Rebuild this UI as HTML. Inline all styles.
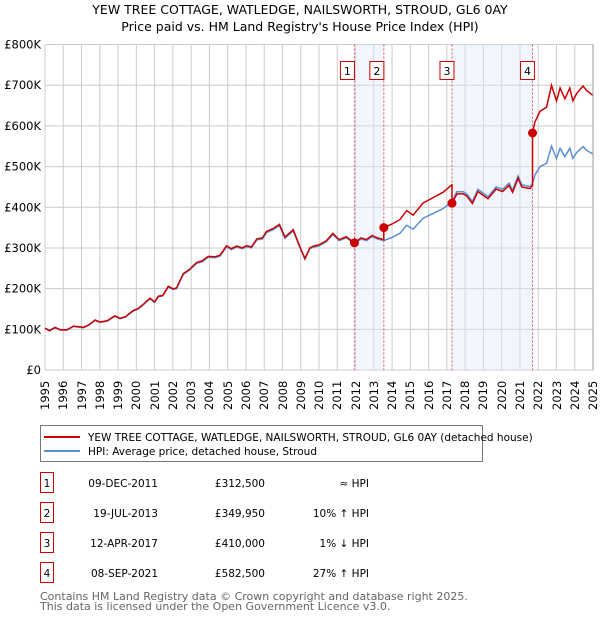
<!DOCTYPE html>
<html><head><meta charset="utf-8"><style>
body{margin:0;background:#fff;font-family:"Liberation Sans","DejaVu Sans",sans-serif;position:relative;width:600px;height:620px;overflow:hidden;}
svg text{font-family:"DejaVu Sans","Liberation Sans",sans-serif;}
svg{position:absolute;left:0;top:0;}
.xl{position:absolute;top:372px;height:38px;width:14px;writing-mode:vertical-rl;transform:rotate(180deg);font-family:"DejaVu Sans","Liberation Sans",sans-serif;font-size:11.5px;line-height:14px;text-align:left;white-space:nowrap;color:#000;}
</style></head><body>
<svg id="c" width="600" height="620" viewBox="0 0 600 620" xmlns="http://www.w3.org/2000/svg">
<text x="300" y="14" text-anchor="middle" font-size="12.5" fill="#000">YEW TREE COTTAGE, WATLEDGE, NAILSWORTH, STROUD, GL6 0AY</text>
<text x="300" y="31" text-anchor="middle" font-size="12.5" fill="#000">Price paid vs. HM Land Registry's House Price Index (HPI)</text>
<g id="grid"></g>
<g id="shade"></g><g id="lines"></g><g id="marks"></g><g id="axes"></g>
<g>
<rect x="40.5" y="425.5" width="442" height="36" fill="#fff" stroke="#777"/>
<line x1="44" y1="437" x2="80" y2="437" stroke="#cc0000" stroke-width="2"/>
<text x="88" y="441" font-size="10.5">YEW TREE COTTAGE, WATLEDGE, NAILSWORTH, STROUD, GL6 0AY (detached house)</text>
<line x1="44" y1="451" x2="80" y2="451" stroke="#5b8fd4" stroke-width="2"/>
<text x="88" y="455" font-size="10.5">HPI: Average price, detached house, Stroud</text>
</g>
<g id="table" font-size="10.5"></g>
<text x="40" y="600" font-size="11" fill="#666">Contains HM Land Registry data © Crown copyright and database right 2025.</text>
<text x="40" y="610" font-size="11" fill="#666">This data is licensed under the Open Government Licence v3.0.</text>
</svg>
<div id="xlabels"></div>
<script>
const hpiYears=[1995,1995.25,1995.55,1995.85,1996.2,1996.56,1996.9,1997.1,1997.4,1997.74,1998.0,1998.4,1998.83,1999.1,1999.4,1999.83,2000.1,2000.37,2000.75,2001.0,2001.2,2001.45,2001.75,2002.0,2002.2,2002.57,2002.9,2003.3,2003.6,2003.93,2004.3,2004.58,2004.94,2005.2,2005.5,2005.8,2006.04,2006.3,2006.6,2006.9,2007.13,2007.5,2007.83,2008.14,2008.59,2008.96,2009.23,2009.5,2009.7,2010.0,2010.4,2010.76,2011.1,2011.5,2011.94,2012.3,2012.6,2012.9,2013.2,2013.55,2014.0,2014.43,2014.8,2015.15,2015.7,2016.25,2016.8,2017.17,2017.27,2017.55,2017.9,2018.1,2018.4,2018.7,2019.25,2019.7,2020.05,2020.4,2020.6,2020.9,2021.1,2021.55,2021.69,2021.82,2022.1,2022.46,2022.73,2023.0,2023.2,2023.46,2023.73,2023.9,2024.1,2024.45,2024.65,2024.98];
const hpiValues=[102,96,104,98,98,107,105,104,110,122,117,120,132,126,130,145,150,160,175,166,180,182,204,198,200,235,245,262,266,277,276,280,303,296,302,298,303,300,320,322,338,345,355,324,342,300,272,298,302,305,315,333,318,325,310,322,318,328,322,318,326,336,356,346,373,385,397,410,414,438,438,432,414,444,426,450,444,459,442,477,455,451,458,479,500,508,550,520,545,524,545,520,534,549,540,531];
const saleLabels=["1","2","3","4"];
const saleYears=[2011.94,2013.55,2017.28,2021.69];
const salePrices=[312500,349950,410000,582500];
const saleDates=["09-DEC-2011","19-JUL-2013","12-APR-2017","08-SEP-2021"];
const saleNotes=["≈ HPI","10% ↑ HPI","1% ↓ HPI","27% ↑ HPI"];
const yTicks=[0,100,200,300,400,500,600,700,800];
const yTickLabels=["£0","£100K","£200K","£300K","£400K","£500K","£600K","£700K","£800K"];

const X0=45,X1=593,Y0=370,Y1=44.5,T0=1995,T1=2025,VMAX=800;
const sx=t=>X0+(t-T0)/(T1-T0)*(X1-X0);
const sy=v=>Y0-v/VMAX*(Y0-Y1);
const NS="http://www.w3.org/2000/svg";
function mk(tag,attrs,parent){const e=document.createElementNS(NS,tag);for(const k in attrs)e.setAttribute(k,attrs[k]);parent.appendChild(e);return e;}
function hpiAt(t){for(let i=0;i<hpiYears.length-1;i++){if(t<=hpiYears[i+1]){const f=(t-hpiYears[i])/(hpiYears[i+1]-hpiYears[i]);return hpiValues[i]+f*(hpiValues[i+1]-hpiValues[i]);}}return hpiValues[hpiValues.length-1];}

const grid=document.getElementById('grid');
for(let y=T0;y<=T1;y++){const l=mk('line',{x1:sx(y),x2:sx(y),y1:Y1,y2:Y0,stroke:'#cccccc','stroke-width':1},grid);

}
yTicks.forEach((v,i)=>{const l=mk('line',{x1:X0,x2:X1,y1:sy(v),y2:sy(v),stroke:'#cccccc','stroke-width':1},grid);


const t=mk('text',{x:X0-4,y:sy(v)+4,'text-anchor':'end','font-size':'11.5'},grid);t.textContent=yTickLabels[i];

});
const xl=document.getElementById('xlabels');
for(let y=T0;y<=T1;y++){const d=document.createElement('div');d.className='xl';
d.style.left=(sx(y)-7).toFixed(1)+'px';d.textContent=String(y);


xl.appendChild(d);}

const shade=document.getElementById('shade');
[[0,1],[2,3]].forEach(p=>{const r=mk('rect',{x:sx(saleYears[p[0]]),y:Y1,width:sx(saleYears[p[1]])-sx(saleYears[p[0]]),height:Y0-Y1,fill:'#dde6fa','fill-opacity':0.4},shade);

});
const boxOff=[-10,-10,-8,-8];
saleYears.forEach((t,i)=>{const l=mk('line',{x1:sx(t),x2:sx(t),y1:Y1,y2:Y0,stroke:'#e05050','stroke-width':1,'stroke-dasharray':'2,2'},shade);


const bx=sx(t)+boxOff[i]-4;
const r=mk('rect',{x:bx,y:61.5,width:14,height:18,fill:'#fff',stroke:'#cc0000'},shade);


const tx=mk('text',{x:bx+7,y:75,'text-anchor':'middle','font-size':'11'},shade);tx.textContent=saleLabels[i];

});

const lines=document.getElementById('lines');
let hp='';hpiYears.forEach((t,i)=>{hp+=(i?'L':'M')+sx(t).toFixed(1)+','+sy(hpiValues[i]).toFixed(1);});
const hl=mk('path',{d:hp,fill:'none',stroke:'#5b8fd4','stroke-width':1.5},lines);


let rp='';let first=true;
const ts=[...new Set(hpiYears.concat(saleYears))].sort((a,b)=>a-b);
function ratioAt(k){return salePrices[k]/1000/hpiAt(saleYears[k]);}
ts.forEach(t=>{let k=0;for(let j=0;j<saleYears.length;j++)if(t>=saleYears[j])k=j;
 const pts=[];
 const idx=saleYears.indexOf(t);
 if(idx>0){pts.push(hpiAt(t)*ratioAt(idx-1));}
 pts.push(hpiAt(t)*ratioAt(k));
 pts.forEach(v=>{rp+=(first?'M':'L')+sx(t).toFixed(1)+','+sy(v).toFixed(1);first=false;});});
const pl=mk('path',{d:rp,fill:'none',stroke:'#cc0000','stroke-width':1.5},lines);



const marks=document.getElementById('marks');
saleYears.forEach((t,i)=>{const c=mk('circle',{cx:sx(t),cy:sy(salePrices[i]/1000),r:4.5,fill:'#cc0000'},marks);

});
const ax=document.getElementById('axes');
mk('line',{x1:X1,x2:X1,y1:Y1,y2:Y0,stroke:'#999'},ax);

const tb=document.getElementById('table');
saleYears.forEach((t,i)=>{const y=483+i*30;
const r=mk('rect',{x:40.5,y:y-10.5,width:13,height:20,fill:'#fff',stroke:'#cc0000'},tb);


const a=mk('text',{x:47,y:y+4,'text-anchor':'middle'},tb);a.textContent=saleLabels[i];


const d=mk('text',{x:158,y:y+4,'text-anchor':'end'},tb);d.textContent=saleDates[i];


const p=mk('text',{x:265,y:y+4,'text-anchor':'end'},tb);p.textContent='£'+salePrices[i].toLocaleString('en-GB');


const n=mk('text',{x:369,y:y+4,'text-anchor':'end'},tb);n.textContent=saleNotes[i];

});
</script>
</body></html>
